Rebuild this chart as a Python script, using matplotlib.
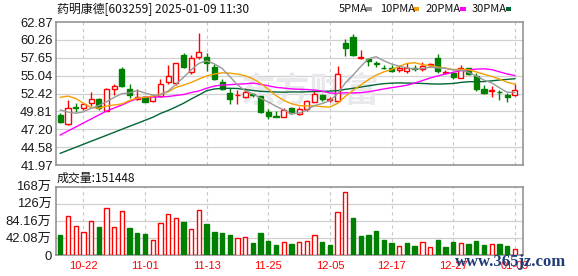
import matplotlib
matplotlib.use('Agg')
import matplotlib.pyplot as plt
from matplotlib.patches import Rectangle
import numpy as np

dates = ['10-17', '10-18', '10-21', '10-22', '10-23', '10-24', '10-25', '10-28', '10-29', '10-30', '10-31',
         '11-01', '11-04', '11-05', '11-06', '11-07', '11-08', '11-11', '11-12', '11-13', '11-14', '11-15',
         '11-18', '11-19', '11-20', '11-21', '11-22', '11-25', '11-26', '11-27', '11-28', '11-29',
         '12-02', '12-03', '12-04', '12-05', '12-06', '12-09', '12-10', '12-11', '12-12', '12-13',
         '12-16', '12-17', '12-18', '12-19', '12-20', '12-23', '12-24', '12-25', '12-26', '12-27',
         '12-30', '12-31', '01-02', '01-03', '01-06', '01-07', '01-08', '01-09']

opens = [49.28, 47.92, 50.45, 50.34, 50.99, 51.57, 49.91, 53.12, 56.00, 53.08,
         51.66, 51.86, 51.32, 52.10, 54.06, 53.91, 58.05, 55.60, 57.71, 57.71,
         56.25, 54.10, 52.54, 52.16, 51.95, 52.35, 52.05, 49.76, 49.15, 49.03,
         50.26, 49.42, 50.11, 51.22, 52.20, 51.50, 51.37, 59.84, 60.72, 57.65,
         57.42, 56.88, 56.22, 56.10, 55.85, 55.70, 56.12, 55.96, 56.54, 57.65,
         55.48, 55.46, 54.73, 56.15, 55.02, 53.03, 52.79, 52.71, 52.20, 52.16]
highs = [49.53, 51.47, 50.99, 51.08, 52.60, 51.72, 53.22, 53.76, 56.34, 53.81,
         53.08, 52.05, 52.16, 54.49, 56.58, 56.92, 58.29, 58.05, 61.31, 58.29,
         56.69, 54.49, 53.18, 52.93, 53.18, 52.45, 52.05, 50.11, 49.91, 50.30,
         50.40, 50.40, 51.47, 52.78, 52.35, 51.95, 56.44, 60.34, 61.07, 58.78,
         57.56, 57.17, 56.58, 56.58, 56.44, 56.92, 56.58, 56.97, 56.83, 58.19,
         55.85, 55.60, 56.54, 56.19, 55.37, 53.62, 53.52, 52.93, 52.45, 53.88]
lows = [48.15, 47.85, 49.76, 50.01, 50.59, 50.01, 49.86, 52.20, 53.41, 51.80,
        51.47, 51.13, 51.22, 51.95, 53.81, 53.66, 56.10, 55.27, 57.42, 55.75,
        54.39, 52.93, 50.84, 50.84, 51.81, 51.86, 49.61, 48.65, 48.95, 48.94,
        49.38, 49.28, 49.91, 51.13, 51.32, 51.18, 51.22, 57.90, 57.90, 57.42,
        56.48, 56.34, 55.96, 55.60, 55.60, 55.46, 55.75, 55.71, 56.34, 55.46,
        55.22, 54.50, 54.64, 55.12, 52.78, 52.35, 51.95, 51.47, 51.22, 52.10]
closes = [48.30, 50.26, 50.37, 50.84, 51.57, 50.26, 53.08, 53.52, 53.58, 52.20,
          51.95, 51.22, 52.01, 53.76, 54.98, 56.83, 56.34, 57.56, 58.44, 56.83,
          54.58, 53.03, 51.66, 52.24, 52.68, 52.24, 49.76, 49.06, 49.00, 50.01,
          49.53, 50.11, 51.32, 52.35, 51.60, 51.56, 55.23, 59.14, 58.05, 57.80,
          57.21, 56.80, 56.15, 55.71, 56.19, 56.08, 56.02, 56.44, 56.69, 55.71,
          55.56, 54.88, 56.19, 55.20, 53.08, 52.54, 52.86, 52.64, 51.95, 52.95]
prev_close = 49.50

# volume in 万
volumes = [49.8, 97.2, 71.1, 56.4, 84.9, 68.6, 115.2, 68.6, 109.4, 66.2,
           53.9, 51.5, 38.4, 80.0, 102.1, 90.7, 80.9, 65.3, 111.9, 76.0,
           56.4, 53.9, 49.8, 41.7, 44.1, 29.4, 53.9, 34.3, 25.3, 33.5,
           27.8, 33.5, 35.9, 50.6, 31.9, 25.3, 105.4, 156.0, 91.5, 46.6,
           49.8, 58.8, 36.8, 29.4, 23.7, 29.4, 22.1, 33.5, 21.2, 36.8,
           19.6, 31.9, 31.0, 27.0, 34.3, 24.5, 28.6, 27.0, 22.1, 15.14]

ma5 = [50.01, 49.72, 49.53, 49.74, 50.27, 50.66, 51.22, 51.85, 52.40, 52.52,
       52.86, 52.49, 52.19, 52.23, 52.78, 53.76, 54.78, 55.89, 56.83, 57.20,
       56.75, 56.09, 54.91, 53.67, 52.84, 52.37, 51.72, 51.19, 50.56, 50.03,
       49.48, 49.55, 50.01, 50.66, 50.96, 51.37, 52.40, 53.96, 55.10, 56.37,
       57.49, 57.80, 57.20, 56.73, 56.41, 56.16, 56.01, 56.07, 56.27, 56.17,
       56.09, 55.86, 55.81, 55.51, 54.98, 54.38, 53.97, 53.26, 52.61, 52.59]
ma10 = [51.86, 52.05, 51.69, 50.99, 50.37, 50.26, 50.59, 50.74, 50.89, 51.40,
        51.76, 51.86, 52.02, 52.31, 52.65, 53.31, 53.64, 54.04, 54.53, 54.99,
        55.26, 55.44, 55.40, 55.25, 55.02, 54.56, 53.90, 53.05, 52.11, 51.43,
        50.93, 50.64, 50.60, 50.61, 50.49, 50.43, 50.98, 51.99, 52.88, 53.66,
        54.43, 55.10, 55.58, 55.92, 56.39, 56.82, 56.91, 56.64, 56.50, 56.29,
        56.13, 55.93, 55.94, 55.89, 55.58, 55.23, 54.92, 54.54, 54.06, 53.79]
ma20 = [46.35, 46.94, 47.52, 48.11, 48.69, 49.28, 49.86, 50.30, 50.74, 51.25,
        51.69, 51.91, 51.91, 51.91, 51.98, 52.13, 52.27, 52.57, 52.79, 53.19,
        53.51, 53.65, 53.71, 53.78, 53.84, 53.94, 53.77, 53.55, 53.32, 53.21,
        53.09, 53.04, 53.00, 52.93, 52.76, 52.49, 52.44, 52.52, 52.50, 52.55,
        52.68, 52.87, 53.09, 53.27, 53.44, 53.63, 53.94, 54.31, 54.69, 54.98,
        55.28, 55.52, 55.76, 55.90, 55.98, 56.03, 55.91, 55.59, 55.28, 55.04]
ma30 = [43.68, 44.12, 44.56, 45.00, 45.44, 45.87, 46.31, 46.75, 47.19, 47.63,
        48.06, 48.50, 48.94, 49.50, 49.94, 50.45, 50.99, 51.62, 52.20, 52.83,
        53.08, 53.18, 53.18, 53.15, 53.00, 52.86, 52.74, 52.68, 52.64, 52.61,
        52.65, 52.64, 52.67, 52.72, 52.72, 52.77, 52.84, 53.03, 53.18, 53.36,
        53.54, 53.72, 53.86, 53.93, 53.97, 53.94, 53.93, 53.89, 53.83, 53.80,
        53.83, 53.89, 54.04, 54.14, 54.15, 54.16, 54.27, 54.39, 54.48, 54.58]

price_ticks = [41.97, 44.58, 47.20, 49.81, 52.42, 55.04, 57.65, 60.26, 62.87]
vol_ticks = [0, 42.08, 84.16, 126.24, 168.32]
vol_tick_labels = ['0', '42.08万', '84.16万', '126万', '168万']
title = '药明康德[603259] 2025-01-09 11:30'
vol_title = '成交量:151448'
legend_names = ['5PMA', '10PMA', '20PMA', '30PMA']
watermark = '东方财富'
site_mark = 'www.365jz.com'

RED = '#ff0000'
GREEN = '#008000'
MA_COLORS = ['#999999', '#f5a000', '#ff00ff', '#006633']
GRID = '#d0d0d0'
FRAME = '#8c8c8c'
CJK = ['Noto Sans CJK SC', 'DejaVu Sans']
NUMF = ['Liberation Sans', 'DejaVu Sans']
NUM_CJK = ['Liberation Sans', 'Noto Sans CJK SC']

W_PX, H_PX = 578, 276
fig = plt.figure(figsize=(W_PX / 100, H_PX / 100), dpi=100)
fig.patch.set_facecolor('white')


def fx(x):
    return x / W_PX


def fy(y):
    return 1 - y / H_PX


left, right = 55.5, 522.5
axp = fig.add_axes([fx(left), fy(165), fx(right - left), (165 - 22) / H_PX])
axv = fig.add_axes([fx(left), fy(255.3), fx(right - left), (255.3 - 186.7) / H_PX])

n = len(dates)
xs = np.arange(n)
tick_idx = list(range(3, n, 8))

for ax in (axp, axv):
    ax.set_xlim(-0.62, n)
    for s in ax.spines.values():
        s.set_color(FRAME)
        s.set_linewidth(1.1)
    ax.tick_params(length=0)
    for t in tick_idx:
        ax.axvline(t, color='#c8c8c8', lw=0.8, ls=(0, (3, 3)), zorder=0.5)

# price panel
axp.set_ylim(price_ticks[0], price_ticks[-1])
axp.set_yticks(price_ticks)
axp.set_yticklabels(['%.2f' % v for v in price_ticks], fontsize=9.4,
                    family=NUMF, color='#1a1a1a')
axp.tick_params(axis='y', pad=2)
axp.set_xticks([])
for v in price_ticks[1:-1]:
    axp.axhline(v, color=GRID, lw=0.9, zorder=0.5)

axp.text(0.545, 0.52, watermark, transform=axp.transAxes, ha='center', va='center',
         fontsize=25, fontweight='bold', color='#e9e9ed', family=CJK, zorder=0.8)

bw = 0.66
for i in range(n):
    o, h, l, c = opens[i], highs[i], lows[i], closes[i]
    up = c >= o
    col = RED if up else GREEN
    axp.vlines(xs[i], l, h, color=col, lw=1.0, zorder=2)
    bot = min(o, c)
    hgt = max(abs(c - o), 0.02)
    axp.add_patch(Rectangle((xs[i] - bw / 2, bot), bw, hgt,
                            facecolor='white' if up else GREEN,
                            edgecolor=col, lw=1.0, zorder=3))

for ma, col in zip([ma30, ma20, ma10, ma5], MA_COLORS[::-1]):
    axp.plot(xs, ma, color=col, lw=1.0, zorder=4)

# volume panel
axv.set_ylim(0, vol_ticks[-1])
axv.set_yticks(vol_ticks)
axv.set_yticklabels(vol_tick_labels, fontsize=9.4, family=NUM_CJK, color='#1a1a1a')
axv.tick_params(axis='y', pad=3)
for v in vol_ticks[1:-1]:
    axv.axhline(v, color=GRID, lw=0.9, zorder=0.5)
axv.set_xticks(tick_idx)
axv.set_xticklabels([dates[i] for i in tick_idx], fontsize=8, family=NUMF, color=RED)
axv.tick_params(axis='x', pad=4)

vbw = 0.56
for i in range(n):
    pc = prev_close if i == 0 else closes[i - 1]
    up = closes[i] >= pc
    col = RED if up else GREEN
    axv.add_patch(Rectangle((xs[i] - vbw / 2, 0), vbw, volumes[i],
                            facecolor='white' if up else GREEN,
                            edgecolor=col, lw=1.0, zorder=3))

# texts
fig.text(fx(57), fy(9), title, ha='left', va='center', fontsize=8.6, family=CJK, color='#111111')
fig.text(fx(57), fy(178), vol_title, ha='left', va='center', fontsize=8.6, family=CJK, color='#111111')

leg_x = [338.5, 380.0, 425.5, 471.5]
mark_x = [366.0, 413.5, 460.0, 505.5]
for name, tx, mx, col in zip(legend_names, leg_x, mark_x, MA_COLORS):
    fig.text(fx(tx), fy(9), name, ha='left', va='center', fontsize=8.0, family=CJK, color='#111111')
    fig.add_artist(Rectangle((fx(mx), fy(10.5)), fx(5.5), 3 / H_PX,
                             transform=fig.transFigure, facecolor=col, edgecolor='none'))

fig.text(fx(455), fy(262), site_mark, ha='left', va='center', fontsize=12,
         family=['Liberation Serif', 'DejaVu Serif'], fontweight='bold', color='#1e3c78')

fig.savefig('out.png', dpi=100, facecolor='white')
